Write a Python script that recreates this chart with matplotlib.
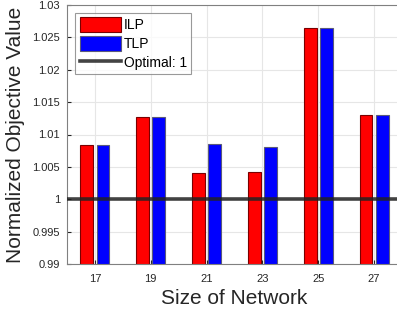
import matplotlib.pyplot as plt
import numpy as np

plt.rcParams['font.family'] = ['Liberation Sans', 'DejaVu Sans']

sizes = [17, 19, 21, 23, 25, 27]
ilp = [1.0084, 1.0127, 1.0040, 1.0042, 1.0264, 1.0130]
tlp = [1.0084, 1.0127, 1.0085, 1.0080, 1.0264, 1.0130]
yticks = [0.99, 0.995, 1, 1.005, 1.01, 1.015, 1.02, 1.025, 1.03]

fig = plt.figure(figsize=(3.97, 3.09), dpi=100)
ax = fig.add_axes([67/397, 45/309, 335/397, 259/309])

x = np.array(sizes)
w = 0.46
b1 = ax.bar(x - 0.29, ilp, w, color='#ff0000', edgecolor='#7a0000', linewidth=0.8, label='ILP', zorder=2)
b2 = ax.bar(x + 0.29, tlp, w, color='#0000ff', edgecolor='#5a5a7a', linewidth=0.8, label='TLP', zorder=2)
ln = ax.axhline(1, color='#222222', linewidth=2.6, alpha=0.85, label='Optimal: 1', zorder=3)

ax.set_xlim(16, 28)
ax.set_ylim(0.99, 1.03)
ax.set_xticks(sizes)
ax.set_yticks(yticks)
ax.set_yticklabels([f'{v:g}' for v in yticks])
ax.grid(True, color='#e6e6e6', linewidth=0.8, zorder=0)
ax.set_axisbelow(True)
ax.tick_params(labelsize=8, colors='#262626', direction='in', length=3, pad=5)
ax.tick_params(axis='x', pad=7)
for s in ax.spines.values():
    s.set_color('#808080')

ax.set_xlabel('Size of Network', fontsize=15, color='#262626', labelpad=4)
ax.set_ylabel('Normalized Objective Value', fontsize=15, color='#262626', labelpad=5)

leg = ax.legend([b1, b2, ln], ['ILP', 'TLP', 'Optimal: 1'], loc='upper left',
                fontsize=10, frameon=True, fancybox=False,
                edgecolor='#808080', handlelength=3.0, handleheight=1.2,
                borderaxespad=0.6, borderpad=0.3, labelspacing=0.3, handletextpad=0.2)
leg.get_frame().set_linewidth(0.8)

fig.savefig('out.png', dpi=100)
